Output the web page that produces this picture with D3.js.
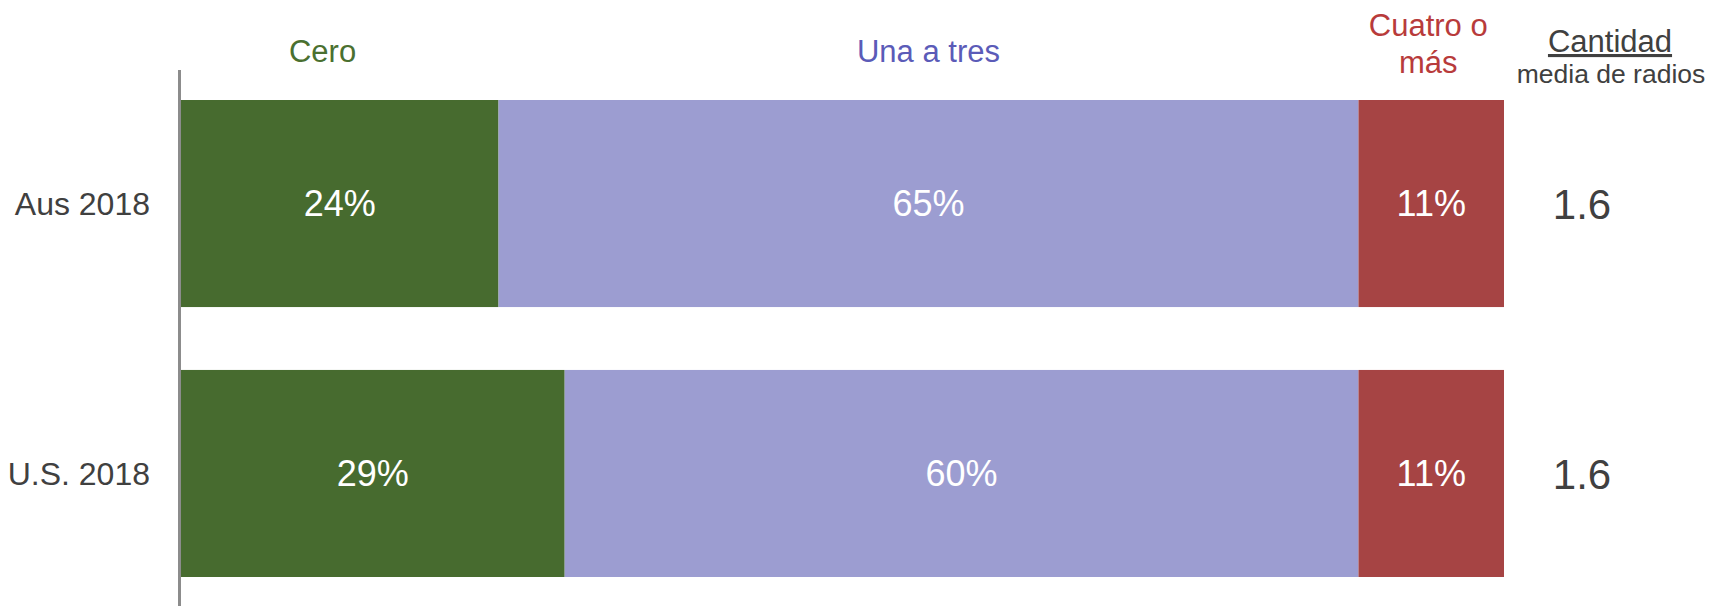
<!DOCTYPE html>
<html>
<head>
<meta charset="utf-8">
<script src="https://cdn.jsdelivr.net/npm/d3@7"></script>
<style>
  body { margin: 0; background: #fff; }
  text { font-family: "Liberation Sans", Arial, sans-serif; }
</style>
</head>
<body>
<script>
// data
const rows = ['Aus 2018', 'U.S. 2018'];
const categories = ['Cero', 'Una a tres', 'Cuatro o más'];
const cero = [24, 29];
const unaATres = [65, 60];
const cuatroOMas = [11, 11];
const meanRadios = [1.6, 1.6];

const colors = ['#476b2f', '#9c9dd1', '#a64444'];
const headColors = ['#4a7030', '#5b5bb8', '#b83b3b'];

const W = 1709, H = 606;
const svg = d3.select('body').append('svg').attr('width', W).attr('height', H);

const x = d3.scaleLinear().domain([0, 100]).range([181, 1504]);
const y = d3.scaleBand().domain(rows).range([100, 577]).paddingInner(0.233).paddingOuter(0);

const table = rows.map((r, i) => {
    const vals = [cero[i], unaATres[i], cuatroOMas[i]];
    let acc = 0;
    return vals.map((v, j) => {
        const seg = { row: r, k: j, v: v, x0: acc, x1: acc + v };
        acc += v;
        return seg;
    });
});
const segs = table.flat();

svg.append('g').selectAll('rect').data(segs).join('rect')
    .attr('x', d => x(d.x0))
    .attr('width', d => x(d.x1) - x(d.x0))
    .attr('y', d => y(d.row))
    .attr('height', y.bandwidth())
    .attr('fill', d => colors[d.k]);

svg.append('g').selectAll('text').data(segs).join('text')
    .attr('x', d => (x(d.x0) + x(d.x1)) / 2)
    .attr('y', d => y(d.row) + y.bandwidth() / 2)
    .attr('dy', '0.36em')
    .attr('text-anchor', 'middle')
    .attr('fill', '#fff')
    .attr('font-size', 36)
    .text(d => d.v + '%');

// left axis line and row labels
svg.append('line')
    .attr('x1', 179.5).attr('x2', 179.5)
    .attr('y1', 70).attr('y2', H)
    .attr('stroke', '#8c8c8c').attr('stroke-width', 3);

svg.append('g').selectAll('text').data(rows).join('text')
    .attr('x', 150)
    .attr('y', d => y(d) + y.bandwidth() / 2)
    .attr('dy', '0.36em')
    .attr('text-anchor', 'end')
    .attr('fill', '#404040')
    .attr('font-size', 32)
    .text(d => d);

// mean count column
svg.append('g').selectAll('text').data(rows).join('text')
    .attr('x', x(100) + 78)
    .attr('y', d => y(d) + y.bandwidth() / 2)
    .attr('dy', '0.36em')
    .attr('text-anchor', 'middle')
    .attr('fill', '#404040')
    .attr('font-size', 42)
    .text((d, i) => d3.format('.1f')(meanRadios[i]));

// category headers
const headX = [x(10.7), (x(table[0][1].x0) + x(table[0][1].x1)) / 2, (x(table[0][2].x0) + x(table[0][2].x1)) / 2 - 3];
svg.append('text').attr('x', headX[0]).attr('y', 62)
    .attr('text-anchor', 'middle').attr('fill', headColors[0]).attr('font-size', 31)
    .text(categories[0]);
svg.append('text').attr('x', headX[1]).attr('y', 62)
    .attr('text-anchor', 'middle').attr('fill', headColors[1]).attr('font-size', 31)
    .text(categories[1]);
const cuatro = svg.append('text').attr('x', headX[2]).attr('y', 36)
    .attr('text-anchor', 'middle').attr('fill', headColors[2]).attr('font-size', 31);
cuatro.append('tspan').attr('x', headX[2]).text('Cuatro o');
cuatro.append('tspan').attr('x', headX[2]).attr('dy', 37).text('más');

svg.append('text').attr('x', x(100) + 106).attr('y', 52)
    .attr('text-anchor', 'middle').attr('fill', '#404040').attr('font-size', 31)
    .attr('text-decoration', 'underline')
    .text('Cantidad');
svg.append('text').attr('x', x(100) + 107).attr('y', 83)
    .attr('text-anchor', 'middle').attr('fill', '#404040').attr('font-size', 26.5)
    .text('media de radios');
</script>
</body>
</html>
